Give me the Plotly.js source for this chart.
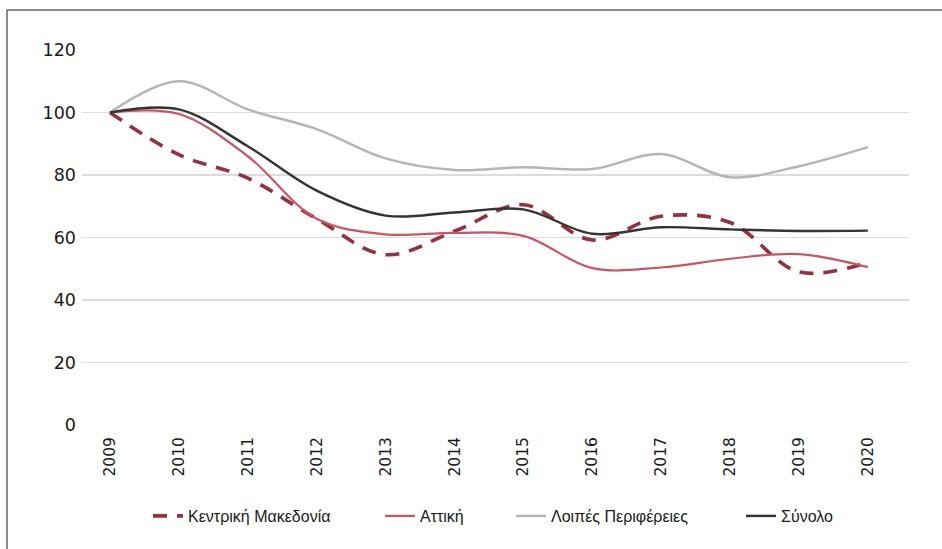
<!DOCTYPE html>
<html>
<head>
<meta charset="utf-8">
<script src="https://cdn.plot.ly/plotly-3.0.1.min.js"></script>
<style>html,body{margin:0;padding:0;background:#fff;}#chart{width:942px;height:549px;}</style>
</head>
<body>
<div id="chart"></div>
<script>
// ---- Data ----
const years = ['2009','2010','2011','2012','2013','2014','2015','2016','2017','2018','2019','2020'];
const seriesNames = ['Κεντρική Μακεδονία', 'Αττική', 'Λοιπές Περιφέρειες', 'Σύνολο'];
const kentrikiMakedonia = [100, 86.5, 79, 66, 54.5, 62, 70.5, 59.2, 66.8, 64.8, 49, 52];
const attiki = [100, 99.5, 86, 66, 61, 61.5, 60.5, 50.2, 50.4, 53.2, 54.7, 50.5];
const loipesPerifereies = [100, 110, 101, 94.7, 85.3, 81.6, 82.5, 81.9, 86.7, 79.3, 82.8, 88.9];
const synolo = [100, 101, 89.2, 75, 67, 68, 69, 61.2, 63.3, 62.6, 62.1, 62.2];
const yTicks = [0, 20, 40, 60, 80, 100, 120];

// ---- Layout geometry (pixels) ----
const W = 942, H = 549;
const M = {l: 82, r: 33, t: 50, b: 124};
const PW = W - M.l - M.r, PH = H - M.t - M.b;
const px2x = p => (p - M.l) / PW;
const px2y = p => (H - M.b - p) / PH;

const colors = ['#94303f', '#cc5461', '#b5b5b5', '#333333'];
const values = [kentrikiMakedonia, attiki, loipesPerifereies, synolo];
const lineStyles = [
  {width: 3.6, dash: '14px,10px'},
  {width: 2.2, dash: 'solid'},
  {width: 2.4, dash: 'solid'},
  {width: 2.4, dash: 'solid'}
];
const legendIds = ['legend', 'legend2', 'legend3', 'legend4'];
const legendTextStart = [190, 422, 553, 783];

const traces = values.map((v, i) => ({
  type: 'scatter', mode: 'lines', x: years, y: v, name: seriesNames[i],
  line: {color: colors[i], width: lineStyles[i].width, dash: lineStyles[i].dash, shape: 'spline', smoothing: 1},
  legend: legendIds[i], hoverinfo: 'skip'
}));

const legendFont = {family: '"Liberation Sans", Arial, sans-serif', size: 16, color: '#1a1a1a'};
const layout = {
  width: W, height: H,
  margin: M,
  paper_bgcolor: '#fff', plot_bgcolor: '#fff',
  showlegend: true,
  xaxis: {
    type: 'category', range: [-0.406, 11.597],
    showgrid: false, zeroline: false, showline: false, ticks: '',
    tickangle: -90, ticklabelstandoff: 8,
    tickfont: {family: '"DejaVu Sans", sans-serif', size: 15.5, color: '#1a1a1a'}
  },
  yaxis: {
    range: [0, 120], tickvals: yTicks, ticktext: yTicks.map(String),
    showgrid: true, gridcolor: '#dcdcdc', gridwidth: 1.3,
    zeroline: false, showline: false, ticks: '', ticklabelstandoff: 5,
    tickfont: {family: '"DejaVu Sans", sans-serif', size: 17.5, color: '#1a1a1a'}
  },
  shapes: [{
    type: 'rect', xref: 'paper', yref: 'paper',
    x0: px2x(7), x1: px2x(W + 20), y0: px2y(H + 20), y1: px2y(10),
    line: {color: '#666', width: 1.5}, fillcolor: 'rgba(0,0,0,0)', layer: 'below'
  }]
};
legendIds.forEach((id, i) => {
  layout[id] = {
    orientation: 'h', x: px2x(legendTextStart[i] - 42), xanchor: 'left',
    y: px2y(516), yanchor: 'middle', font: legendFont,
    bgcolor: 'rgba(0,0,0,0)', borderwidth: 0, itemclick: false, itemdoubleclick: false
  };
});

Plotly.newPlot('chart', traces, layout, {staticPlot: true, displayModeBar: false});
</script>
</body>
</html>
